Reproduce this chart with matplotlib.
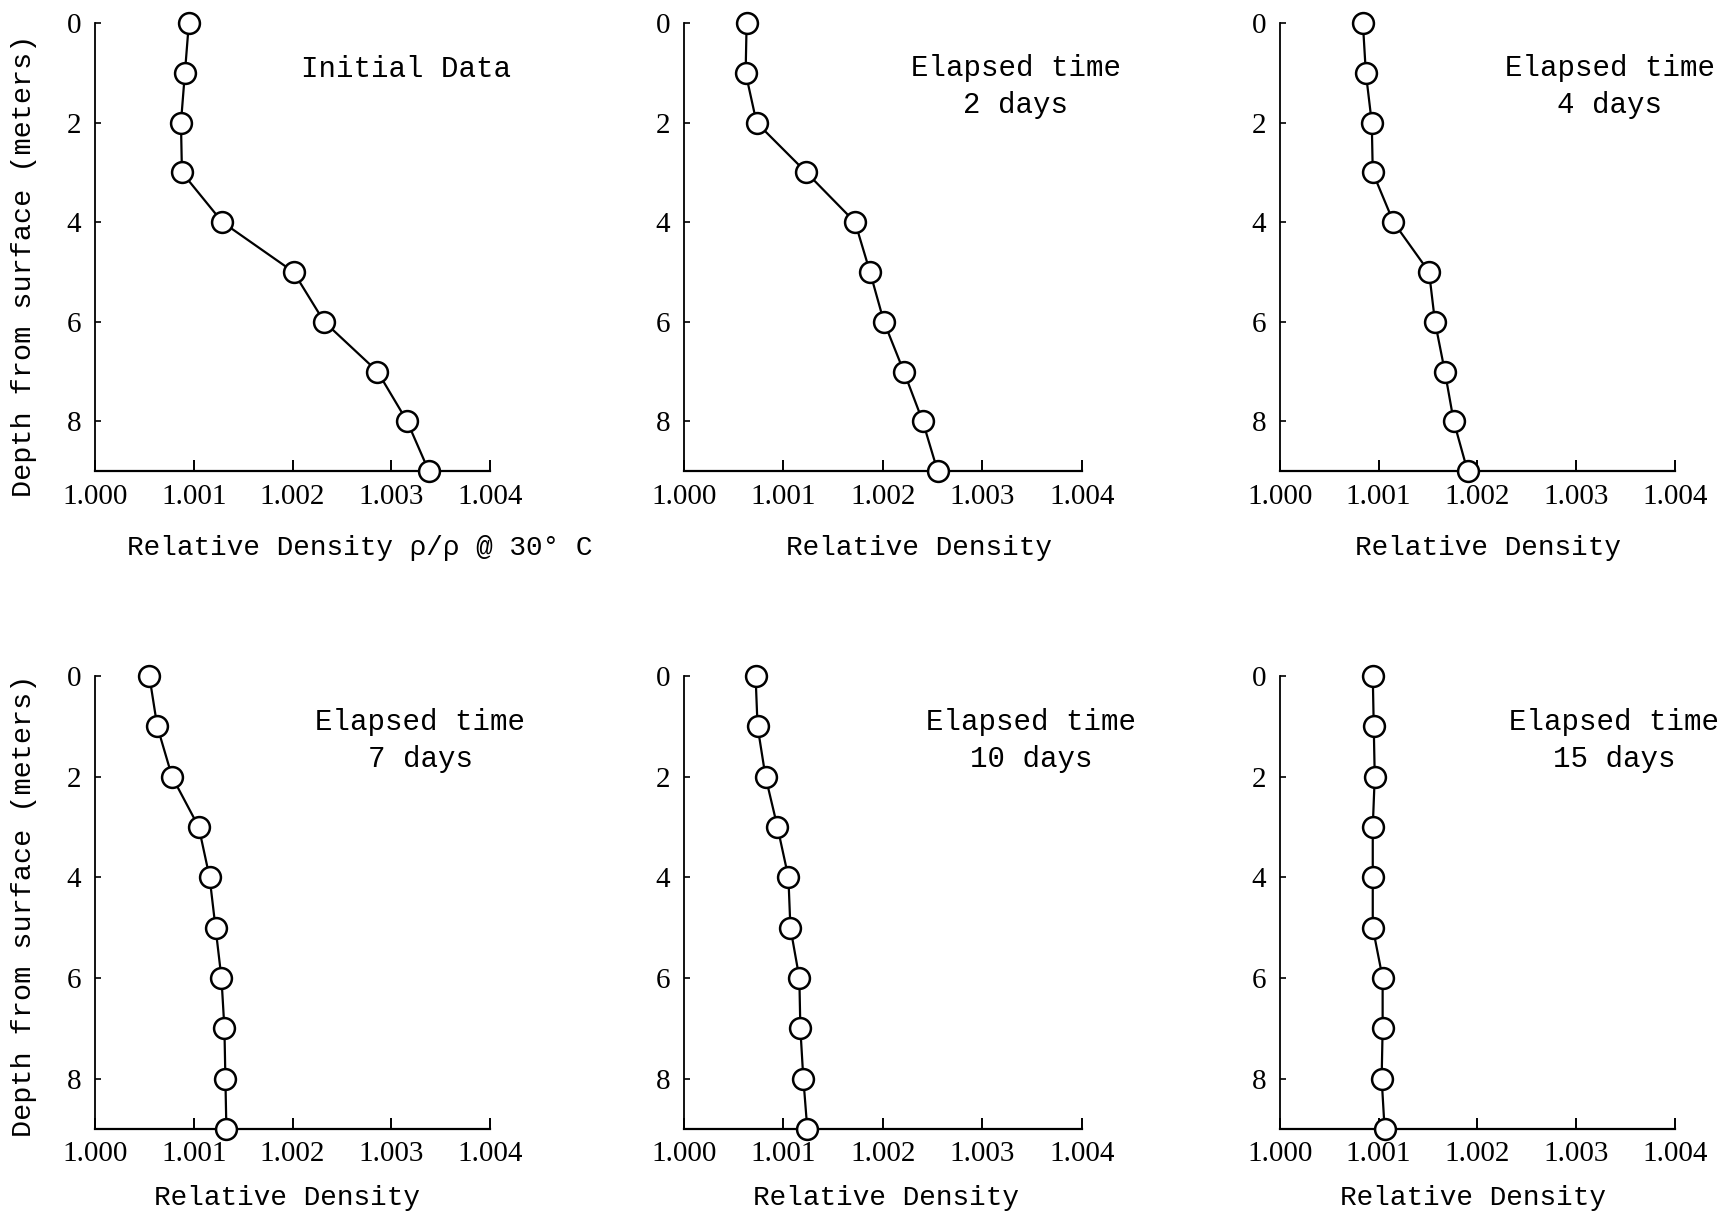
import matplotlib
matplotlib.use('Agg')
import matplotlib.pyplot as plt

###############################################################################
# Data
depth = [0, 1, 2, 3, 4, 5, 6, 7, 8, 9]  # meters below surface
initial = [1.00095, 1.00091, 1.00087, 1.00088, 1.00129, 1.00201, 1.00232, 1.00286, 1.00316, 1.00338]
day2 = [1.00063, 1.00062, 1.00073, 1.00123, 1.00172, 1.00187, 1.00201, 1.00221, 1.00240, 1.00255]
day4 = [1.00084, 1.00087, 1.00093, 1.00094, 1.00115, 1.00151, 1.00157, 1.00167, 1.00176, 1.00190]
day7 = [1.00055, 1.00063, 1.00078, 1.00105, 1.00116, 1.00122, 1.00128, 1.00131, 1.00132, 1.00133]
day10 = [1.00072, 1.00074, 1.00082, 1.00094, 1.00105, 1.00107, 1.00116, 1.00117, 1.00120, 1.00124]
day15 = [1.00094, 1.00095, 1.00096, 1.00094, 1.00094, 1.00094, 1.00104, 1.00104, 1.00103, 1.00106]

series = [initial, day2, day4, day7, day10, day15]
labels = ['Initial Data', 'Elapsed time\n2 days', 'Elapsed time\n4 days',
          'Elapsed time\n7 days', 'Elapsed time\n10 days', 'Elapsed time\n15 days']
xticks = [1.000, 1.001, 1.002, 1.003, 1.004]
yticks = [0, 2, 4, 6, 8]
ylabel = 'Depth from surface (meters)'
xlabels = ['Relative Density \u03c1/\u03c1 @ 30\u00b0 C', 'Relative Density', 'Relative Density',
           'Relative Density', 'Relative Density', 'Relative Density']

###############################################################################
# Layout (figure fractions)
mono = 'Liberation Mono'
serif = 'Liberation Serif'
lefts = [0.0550, 0.3958, 0.7407]
widths = [0.2286, 0.2303, 0.2286]
rows = [(0.6123, 0.3687), (0.0708, 0.3728)]
text_x = [0.787, 0.834, 0.835, 0.823, 0.872, 0.846]
text_y = [0.92, 1.27, 1.27, 1.28, 1.28, 1.28]  # in depth units
xlab_x = [0.08, 0.59, 0.527, 0.487, 0.508, 0.489]
xlab_y = [-0.172, -0.172, -0.172, -0.152, -0.152, -0.152]

fig = plt.figure(figsize=(17.28, 12.15), dpi=100)

for i, vals in enumerate(series):
    r, c = divmod(i, 3)
    bottom, height = rows[r]
    ax = fig.add_axes([lefts[c], bottom, widths[c], height])
    ax.plot(vals, depth, color='black', linewidth=1.6, marker='o', markersize=15,
            markerfacecolor='white', markeredgecolor='black', markeredgewidth=1.8,
            clip_on=False, zorder=3)
    ax.set_xlim(1.000, 1.004)
    ax.set_ylim(9, 0)
    ax.set_xticks(xticks)
    ax.set_xticklabels(['%.3f' % t for t in xticks], fontfamily=serif, fontsize=21)
    ax.set_yticks(yticks)
    ax.set_yticklabels([str(t) for t in yticks], fontfamily=serif, fontsize=21)
    ax.tick_params(axis='x', direction='in', length=8, width=1.4, pad=9)
    ax.tick_params(axis='y', direction='in', length=4, width=1.2, pad=10)
    for side in ['top', 'right']:
        ax.spines[side].set_visible(False)
    ax.spines['bottom'].set_linewidth(1.6)
    ax.spines['left'].set_linewidth(1.3)
    ax.patch.set_alpha(0)

    # panel annotation
    ax.text(text_x[i], text_y[i], labels[i], transform=ax.get_yaxis_transform(),
            fontfamily=mono, fontsize=21, ha='center', va='center', multialignment='center',
            linespacing=1.4)
    # x axis label
    ha = 'left' if i == 0 else 'center'
    ax.text(xlab_x[i], xlab_y[i], xlabels[i], transform=ax.transAxes,
            fontfamily=mono, fontsize=20, ha=ha, va='center')

# y labels shared per row
fig.text(24 / 1728, 1 - 266 / 1215, ylabel, rotation=90, fontfamily=mono, fontsize=20.5,
         ha='center', va='center')
fig.text(24 / 1728, 1 - 906 / 1215, ylabel, rotation=90, fontfamily=mono, fontsize=20.5,
         ha='center', va='center')

fig.savefig('out.png', dpi=100)
